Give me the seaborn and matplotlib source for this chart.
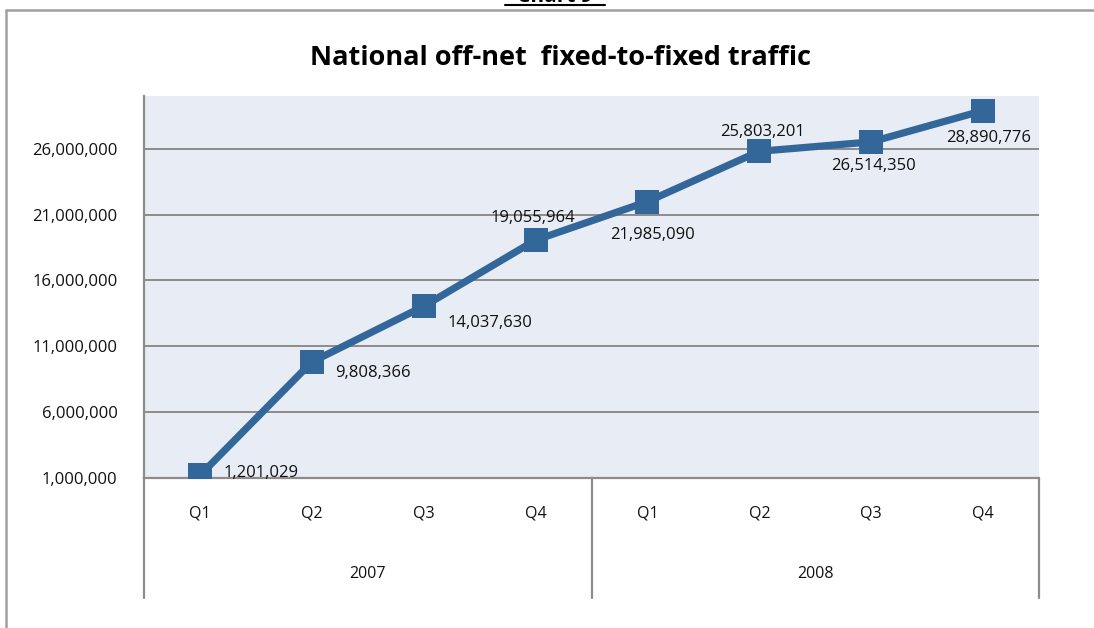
import numpy as np
import pandas as pd
import matplotlib
matplotlib.use("Agg")
import matplotlib.pyplot as plt
from matplotlib.lines import Line2D
from matplotlib.ticker import FuncFormatter, FixedLocator
import seaborn as sns

# Quarterly national off-net fixed-to-fixed traffic
quarters = ["Q1", "Q2", "Q3", "Q4", "Q1", "Q2", "Q3", "Q4"]
years = ["2007", "2008"]
traffic = [1201029, 9808366, 14037630, 19055964,
           21985090, 25803201, 26514350, 28890776]
y_ticks = [1000000, 6000000, 11000000, 16000000, 21000000, 26000000]

sns.set_theme(style="white")
plt.rcParams["font.family"] = ["Open Sans", "DejaVu Sans"]

LINE_BLUE = "#336699"
GRID_GRAY = "#8c8c8c"
FRAME_GRAY = "#a0a0a0"
TEXT = "#111111"

df = pd.DataFrame({"pos": np.arange(len(quarters)), "traffic": traffic})

fig = plt.figure(figsize=(10.94, 6.28), dpi=100)
ax = fig.add_axes([144 / 1094, 1 - 478 / 628, (1039 - 144) / 1094, (478 - 96) / 628])
ax.set_facecolor("#e8ecf4")

sns.lineplot(data=df, x="pos", y="traffic", ax=ax, color=LINE_BLUE,
             linewidth=5.2, marker="s", markersize=17,
             markeredgewidth=0, markerfacecolor=LINE_BLUE, zorder=3)

ax.set_xlim(-0.5, len(quarters) - 0.5)
ax.set_ylim(1000000, 30000000)
ax.yaxis.set_major_locator(FixedLocator(y_ticks))
ax.yaxis.set_major_formatter(FuncFormatter(lambda v, _: f"{int(v):,}"))
ax.tick_params(axis="y", length=0, pad=19, labelsize=12, labelcolor=TEXT)
ax.set_xticks([])
ax.set_xlabel("")
ax.set_ylabel("")
ax.grid(axis="y", color=GRID_GRAY, linewidth=1.4)
ax.grid(axis="x", visible=False)
ax.set_axisbelow(True)

for side in ["top", "right"]:
    ax.spines[side].set_visible(False)
for side in ["left", "bottom"]:
    ax.spines[side].set_color(GRID_GRAY)
    ax.spines[side].set_linewidth(1.6)

# data labels (offsets in points from each marker)
offsets = [(17, 2, "left", "center"), (17, -8, "left", "center"),
           (17, -12, "left", "center"), (-2, 16, "center", "center"),
           (4, -24, "center", "center"), (2, 14, "center", "center"),
           (2, -17, "center", "center"), (4, -20, "center", "center")]
for i, (v, (dx, dy, ha, va)) in enumerate(zip(traffic, offsets)):
    ax.annotate(f"{v:,}", (i, v), xytext=(dx, dy), textcoords="offset points",
                ha=ha, va=va, fontsize=12, color=TEXT, zorder=4)

# category axis: quarters and years below the plot
trans = ax.get_xaxis_transform()
for i, q in enumerate(quarters):
    ax.text(i, -0.092, q, transform=trans, ha="center", va="center",
            fontsize=11.5, color=TEXT)
for j, yr in enumerate(years):
    ax.text(1.5 + 4 * j, -0.251, yr, transform=trans, ha="center",
            va="center", fontsize=11.5, color=TEXT)
for xs in [-0.5, 3.5, 7.5]:
    ax.add_line(Line2D([xs, xs], [0, -0.314], transform=trans,
                       color=GRID_GRAY, linewidth=1.6, clip_on=False))

fig.text(561 / 1094, 1 - 58 / 628, "National off-net  fixed-to-fixed traffic",
         ha="center", va="center", fontsize=19.5, fontweight="bold",
         color="black")

# outer chart frame and caption above it
fig.add_artist(Line2D([6 / 1094, 6 / 1094], [0, 1 - 10 / 628],
                      transform=fig.transFigure, color=FRAME_GRAY, linewidth=1.8))
fig.add_artist(Line2D([6 / 1094, 1], [1 - 10 / 628, 1 - 10 / 628],
                      transform=fig.transFigure, color=FRAME_GRAY, linewidth=1.8))
fig.text(555 / 1094, 1 - 2.5 / 628, "Chart 9", ha="center", va="baseline",
         fontsize=15, fontweight="bold", color="black")
fig.add_artist(Line2D([505 / 1094, 605 / 1094], [1 - 4.5 / 628, 1 - 4.5 / 628],
                      transform=fig.transFigure, color="black", linewidth=1.5))

fig.savefig("out.png", dpi=100)
